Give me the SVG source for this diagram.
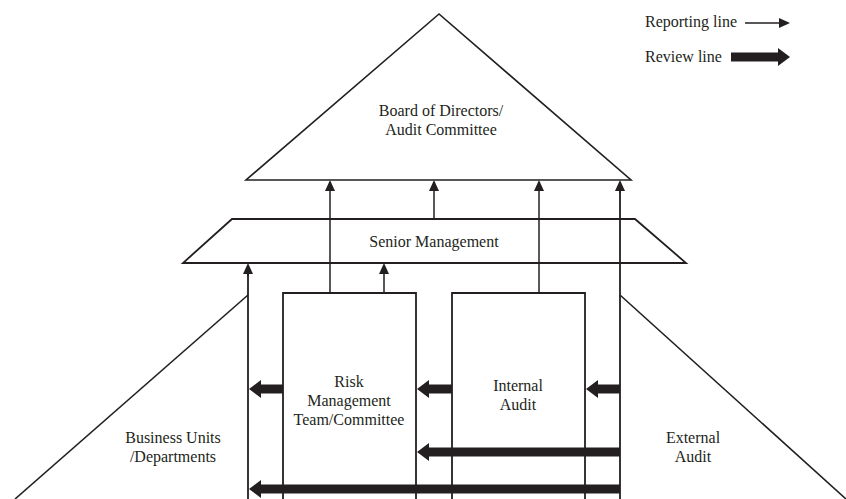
<svg xmlns="http://www.w3.org/2000/svg" width="846" height="499" viewBox="0 0 846 499">
<style>
.shape{fill:none;stroke:#231f20;stroke-width:1.8;stroke-linejoin:miter}
.tri{fill:none;stroke:#231f20;stroke-width:1.6}
.rep{fill:none;stroke:#231f20;stroke-width:1.5;marker-end:url(#thin)}
.rev{fill:none;stroke:#231f20;stroke-width:9;marker-end:url(#thick)}
.vline{fill:none;stroke:#231f20;stroke-width:1.8}
text{font-family:"Liberation Serif","Times New Roman",serif;font-size:16px;fill:#231f20;text-anchor:middle}
.leg{text-anchor:start}
</style>
<defs>
<marker id="thin" markerUnits="userSpaceOnUse" markerWidth="14" markerHeight="12" refX="0" refY="5" orient="auto" overflow="visible">
<path d="M0,0 L11,5 L0,10 z" fill="#231f20"/>
</marker>
<marker id="thick" markerUnits="userSpaceOnUse" markerWidth="14" markerHeight="20" refX="0" refY="9" orient="auto" overflow="visible">
<path d="M0,0 L12,9 L0,18 z" fill="#231f20"/>
</marker>
</defs>

<g id="legend">
<text class="leg" x="645" y="27">Reporting line</text>
<line class="rep" x1="745" y1="23" x2="779" y2="23"/>
<text class="leg" x="645" y="62">Review line</text>
<line class="rev" x1="731" y1="57" x2="778" y2="57"/>
</g>

<g id="board">
<polygon class="tri" points="439,14 246,180 631,180"/>
<text x="441" y="116">Board of Directors/</text>
<text x="441" y="135">Audit Committee</text>
</g>

<g id="senior">
<polygon class="shape" points="232,219 635,219 686,263 183,263"/>
<text x="434" y="247">Senior Management</text>
</g>

<g id="business">
<polyline class="tri" points="248,295 15,499"/>
<text x="173" y="443">Business Units</text>
<text x="173" y="462">/Departments</text>
</g>

<g id="external">
<polyline class="tri" points="620,295 846,499"/>
<text x="693" y="443">External</text>
<text x="693" y="462">Audit</text>
</g>

<g id="risk">
<polyline class="shape" points="283,499 283,293 416,293 416,499"/>
<text x="349" y="387">Risk</text>
<text x="349" y="406">Management</text>
<text x="349" y="425">Team/Committee</text>
</g>

<g id="internal">
<polyline class="shape" points="452,499 452,293 585,293 585,499"/>
<text x="518" y="391">Internal</text>
<text x="518" y="410">Audit</text>
</g>

<g id="connectors">
<line class="vline" x1="248" y1="499" x2="248" y2="274"/>
<line class="vline" x1="620" y1="499" x2="620" y2="191"/>
<line class="rep" x1="248" y1="276" x2="248" y2="274"/>
<line class="rep" x1="330" y1="293" x2="330" y2="191"/>
<line class="rep" x1="434" y1="219" x2="434" y2="191"/>
<line class="rep" x1="539" y1="293" x2="539" y2="191"/>
<line class="rep" x1="620" y1="193" x2="620" y2="191"/>
<line class="rep" x1="384" y1="293" x2="384" y2="274"/>

<line class="rev" x1="283" y1="389" x2="261" y2="389"/>
<line class="rev" x1="452" y1="389" x2="429" y2="389"/>
<line class="rev" x1="620" y1="389" x2="598" y2="389"/>
<line class="rev" x1="620" y1="452" x2="429" y2="452"/>
<line class="rev" x1="620" y1="489" x2="261" y2="489"/>
</g>
</svg>
